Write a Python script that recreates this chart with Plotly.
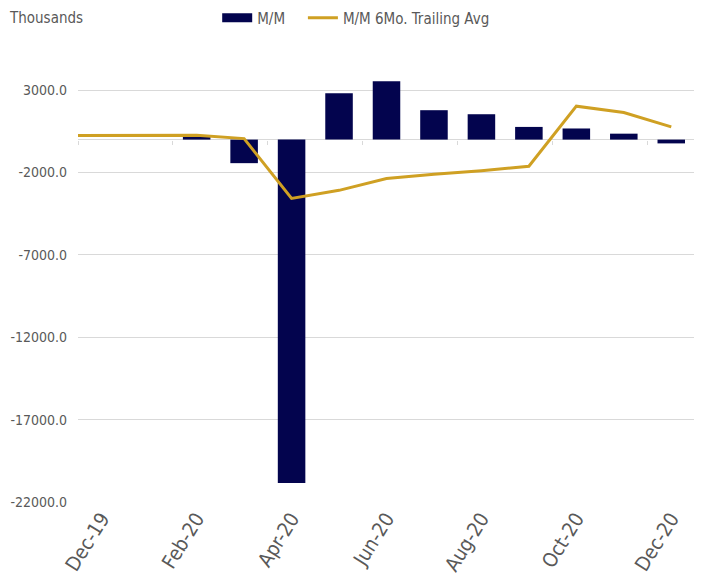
import plotly.graph_objects as go

# monthly change in payrolls (thousands) and 6-month trailing average
months = ["Nov-19", "Dec-19", "Jan-20", "Feb-20", "Mar-20", "Apr-20", "May-20",
          "Jun-20", "Jul-20", "Aug-20", "Sep-20", "Oct-20", "Nov-20", "Dec-20"]
mm_change = [250, 0, 0, 200, -1430, -20850, 2815,
             3545, 1785, 1540, 770, 675, 360, -230]
trailing_avg = [250, 250, 250, 270, 60, -3575, -3080,
                -2360, -2100, -1890, -1620, 2030, 1640, 770]
tick_months = months[1::2]
y_ticks = [3000, -2000, -7000, -12000, -17000, -22000]
y_range = [-22000, 5500]

NAVY = "#03044E"
GOLD = "#CFA023"
GREY = "#595959"
FONT = "DejaVu Sans Condensed, DejaVu Sans, sans-serif"

# small tick marks on the zero line, every two months between the bars
boundary_ticks = [i - 0.5 for i in range(1, len(months), 2)]
zero_pos = (0 - y_range[0]) / (y_range[1] - y_range[0])

fig = go.Figure()

# M/M bars
fig.add_trace(go.Bar(
    x=months,
    y=mm_change,
    name="M/M",
    showlegend=False,
    marker=dict(color=NAVY, line=dict(width=0))
))

# legend swatch for the bars (wide rectangle like the original)
fig.add_trace(go.Scatter(
    x=[None],
    y=[None],
    mode="lines",
    name="M/M" + "\u00a0" * 3,
    line=dict(color=NAVY, width=9)
))

# trailing average line
fig.add_trace(go.Scatter(
    x=months,
    y=trailing_avg,
    mode="lines",
    name="M/M 6Mo. Trailing Avg",
    line=dict(color=GOLD, width=3)
))

# empty trace so the tick-mark axis gets drawn
fig.add_trace(go.Scatter(
    x=[None],
    y=[None],
    xaxis="x2",
    showlegend=False,
    hoverinfo="skip"
))

fig.update_layout(
    width=702,
    height=583,
    margin=dict(l=70, r=15, t=41, b=89),
    plot_bgcolor="white",
    paper_bgcolor="white",
    font=dict(family=FONT, size=14, color=GREY),
    bargap=0.42,
    showlegend=True,
    legend=dict(
        orientation="h",
        xref="container", yref="container",
        x=0.298, xanchor="left",
        y=0.983, yanchor="middle",
        font=dict(size=15, color=GREY),
        itemwidth=30,
        bgcolor="rgba(0,0,0,0)"
    ),
    annotations=[dict(
        text="Thousands",
        xref="paper", yref="paper",
        x=-0.115, y=1.068,
        xanchor="left", yanchor="middle",
        showarrow=False,
        font=dict(size=15, color=GREY)
    )],
    xaxis2=dict(
        overlaying="x",
        anchor="free",
        position=zero_pos,
        range=[0.5, len(months) - 0.5],
        tickmode="array",
        tickvals=boundary_ticks,
        showticklabels=False,
        ticks="outside",
        ticklen=4,
        tickcolor="#D9D9D9",
        showgrid=False,
        showline=False,
        zeroline=False
    )
)

fig.layout.xaxis.update(
    type="category",
    range=[0.5, len(months) - 0.5],
    tickmode="array",
    tickvals=tick_months,
    ticktext=tick_months,
    tickangle=-58,
    showgrid=False,
    showline=False,
    ticks="",
    automargin=False,
    tickfont=dict(size=20, color=GREY)
)

fig.update_yaxes(
    range=y_range,
    tickmode="array",
    tickvals=y_ticks,
    ticktext=[f"{v:.1f}" for v in y_ticks],
    showgrid=True,
    gridcolor="#D9D9D9",
    gridwidth=1,
    zeroline=True,
    zerolinecolor="#D9D9D9",
    zerolinewidth=1,
    showline=False,
    ticks="",
    automargin=False,
    ticklabelstandoff=10,
    tickfont=dict(size=14, color=GREY)
)

fig.write_html("out.html")
